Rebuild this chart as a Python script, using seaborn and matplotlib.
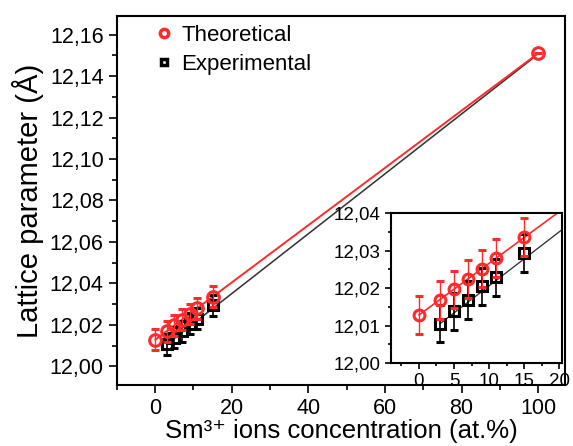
import numpy as np
import matplotlib
matplotlib.use('Agg')
import matplotlib.pyplot as plt
import seaborn as sns
from matplotlib.ticker import MultipleLocator, FuncFormatter

# data
theo_x = [0, 3, 5, 7, 9, 11, 15, 100]
theo_y = [12.0128, 12.0168, 12.0197, 12.0224, 12.0252, 12.0280, 12.0336, 12.151]
theo_err = [0.005, 0.005, 0.005, 0.005, 0.005, 0.005, 0.005, 0.0]
exp_x = [3, 5, 7, 9, 11, 15]
exp_y = [12.0105, 12.0138, 12.0168, 12.0205, 12.0229, 12.0294]
exp_err = [0.005, 0.005, 0.005, 0.005, 0.005, 0.005]
theo_fit_x = [0, 100]
theo_fit_y = [12.0128, 12.151]
exp_fit_x = [3, 99]
exp_fit_y = [12.0105, 12.1492]

sns.set_style('ticks')
plt.rcParams['font.family'] = ['Liberation Sans', 'DejaVu Sans']
for k in ['text.color', 'axes.labelcolor', 'xtick.color', 'ytick.color', 'axes.edgecolor']:
    plt.rcParams[k] = 'black'

RED = '#ff2a2a'
comma = FuncFormatter(lambda v, p: f'{v:.2f}'.replace('.', ','))


def draw(ax, ms, mew, lw):
    sns.lineplot(x=theo_fit_x, y=theo_fit_y, ax=ax, color=RED, lw=lw, zorder=2)
    sns.lineplot(x=exp_fit_x, y=exp_fit_y, ax=ax, color='#333333', lw=lw * 0.8, zorder=1)
    ax.errorbar(exp_x, exp_y, yerr=exp_err, fmt='s', mfc='none', mec='black',
                mew=mew, ms=ms, ecolor='black', elinewidth=1.2, capsize=3, zorder=3)
    ax.errorbar(theo_x, theo_y, yerr=theo_err, fmt='o', mfc='none', mec=RED,
                mew=mew, ms=ms * 1.2, ecolor=RED, elinewidth=1.0, capsize=3, zorder=4)
    for s in ax.spines.values():
        s.set_linewidth(1.5)
        s.set_visible(True)
    ax.tick_params(which='both', direction='out', width=1.2, color='black')


fig = plt.figure(figsize=(5.73, 4.46), dpi=100)
ax = fig.add_axes([0.204, 0.137, 0.782, 0.827])
draw(ax, 7, 2.2, 1.4)
ax.set_xlim(-10, 107)
ax.set_ylim(11.991, 12.169)
ax.xaxis.set_major_locator(MultipleLocator(20))
ax.xaxis.set_minor_locator(MultipleLocator(10))
ax.yaxis.set_major_locator(MultipleLocator(0.02))
ax.yaxis.set_minor_locator(MultipleLocator(0.01))
ax.yaxis.set_major_formatter(comma)
ax.tick_params(which='major', length=6, labelsize=15.5)
ax.tick_params(which='minor', length=3.5)
ax.set_xlabel('Sm³⁺ ions concentration (at.%)', fontsize=18.5, labelpad=0)
ax.set_ylabel('Lattice parameter (Å)', fontsize=21, labelpad=4)

h1 = ax.plot([], [], 'o', mfc='none', mec=RED, mew=2.5, ms=6)[0]
h2 = ax.plot([], [], 's', mfc='none', mec='black', mew=2.5, ms=5)[0]
ax.legend([h1, h2], ['Theoretical', 'Experimental'], loc='upper left', frameon=False,
          fontsize=16, handletextpad=0.2, handlelength=1.2,
          bbox_to_anchor=(0.03, 1.03), labelspacing=0.35)

ins = fig.add_axes([0.682, 0.186, 0.298, 0.336])
draw(ins, 6.5, 2.2, 1.2)
ins.set_xlim(-4, 20.3)
ins.set_ylim(12.0, 12.04)
ins.xaxis.set_major_locator(MultipleLocator(5))
ins.xaxis.set_minor_locator(MultipleLocator(2.5))
ins.yaxis.set_major_locator(MultipleLocator(0.01))
ins.yaxis.set_minor_locator(MultipleLocator(0.005))
ins.yaxis.set_major_formatter(comma)
ins.tick_params(which='major', length=4, labelsize=13.5)
ins.tick_params(which='minor', length=2.5)
ins.set_xlabel('')
ins.set_ylabel('')

fig.savefig('out.png', dpi=100)
